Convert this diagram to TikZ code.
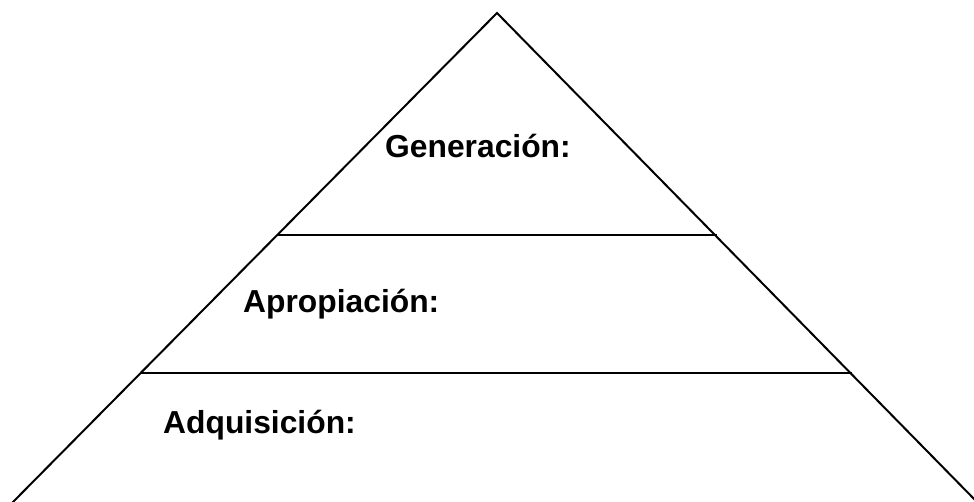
\documentclass[tikz,border=0pt]{standalone}
\usepackage{fontspec}
\setmainfont{Liberation Sans}
\begin{document}
\begin{tikzpicture}[x=1pt,y=-1pt,
  edge/.style={draw=black,line width=2pt},
  lbl/.style={anchor=base west,inner sep=0pt,font=\fontsize{31.8}{38}\selectfont\bfseries}]
\useasboundingbox (0,0) rectangle (974,502);
\coordinate (apex) at (497,13);
\coordinate (bl) at (11,504);
\coordinate (br) at (979,504);
\draw[edge,line join=miter] (bl) -- (apex) -- (br);
\coordinate (l1a) at (276.5,235.5);
\coordinate (l1b) at (717,235.5);
\coordinate (l2a) at (141,372.5);
\coordinate (l2b) at (852,372.5);
\draw[edge] (l1a) -- (l1b);
\draw[edge] (l2a) -- (l2b);
\node[lbl] (gen) at (385,158) {Generación:};
\node[lbl] (apr) at (243,313) {Apropiación:};
\node[lbl] (adq) at (163,433) {Adquisición:};
\end{tikzpicture}
\end{document}
